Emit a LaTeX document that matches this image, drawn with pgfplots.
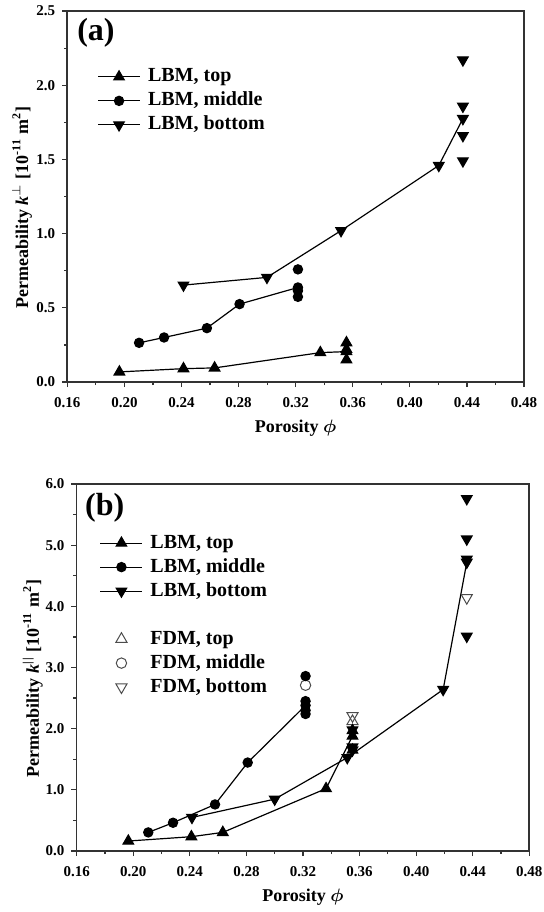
\documentclass[border=0pt]{standalone}
\usepackage{fontspec}
\setmainfont{Liberation Serif}
\usepackage{pgfplots}
\pgfplotsset{compat=1.18}

% shared look of both panels
\pgfplotsset{
  panel/.style={
    scale only axis,
    xmin=0.16, xmax=0.48,
    xtick={0.16,0.20,...,0.48},
    minor x tick num=1, minor y tick num=1,
    tick align=outside, xtick pos=left, ytick pos=left,
    major tick length=2.6pt, minor tick length=1.6pt,
    axis line style={black!80, line width=0.8pt},
    every tick/.style={black!80, line width=0.6pt},
    /pgf/number format/assume math mode=true,
    ticklabel style={font=\bfseries\fontsize{7.5}{9}\selectfont},
    xticklabel style={/pgf/number format/fixed, /pgf/number format/fixed zerofill, /pgf/number format/precision=2, yshift=-1.5pt},
    yticklabel style={/pgf/number format/fixed, /pgf/number format/fixed zerofill, /pgf/number format/precision=1},
    scaled ticks=false,
    label style={font=\bfseries\fontsize{9}{11}\selectfont},
    xlabel={Porosity {\boldmath$\phi$}},
    xlabel style={at={(axis description cs:0.5,-0.125)}, anchor=center},
    legend style={draw=none, fill=none, font=\bfseries\fontsize{10}{12}\selectfont,
      nodes={inner sep=1.2pt, text height=7pt, text depth=2pt}, row sep=0.6pt,
      /tikz/every odd column/.append style={column sep=2.5pt}},
    legend cell align=left,
    legend image code/.code={\draw[mark repeat=2,mark phase=2,#1] plot coordinates {(0pt,0pt) (10.5pt,0pt) (21pt,0pt)};},
    every axis plot/.append style={black, line width=0.6pt},
  },
  uptri/.style={mark=triangle*, mark size=3pt, mark options={solid, fill=black}},
  dntri/.style={mark=triangle*, mark size=3pt, mark options={solid, fill=black, rotate=180}},
  dot/.style={mark=*, mark size=2.3pt, mark options={solid, fill=black}},
}

\begin{document}
\begin{tikzpicture}
\path[use as bounding box] (-33.65pt,191pt) rectangle (238.35pt,-265pt);

% ---------------- (a) ----------------
\begin{axis}[panel, at={(0pt,0pt)}, anchor=south west,
  width=228.35pt, height=185.5pt,
  ymin=0, ymax=2.5, ytick={0,0.5,...,2.5},
  ylabel={Permeability \textit{k}\textsuperscript{$\perp$} [10\textsuperscript{-11} m\textsuperscript{2}]},
  ylabel style={at={(axis description cs:-0.099,0.47)}, anchor=center},
  legend style={at={(axis description cs:0.052,0.865)}, anchor=north west},
]
\addplot[uptri] coordinates {(0.1965,0.068) (0.2414,0.090) (0.2632,0.095) (0.3373,0.198) (0.3556,0.205)};
\addlegendentry{LBM, top}
\addplot[dot] coordinates {(0.2103,0.264) (0.2278,0.300) (0.2578,0.363) (0.2807,0.525) (0.3216,0.637)};
\addlegendentry{LBM, middle}
\addplot[dntri] coordinates {(0.2414,0.653) (0.2999,0.705) (0.3518,1.020) (0.4203,1.459) (0.4372,1.775)};
\addlegendentry{LBM, bottom}
% repeated samples at the last porosity
\addplot[uptri, only marks, forget plot] coordinates {(0.3556,0.265) (0.3556,0.220) (0.3556,0.150)};
\addplot[dot, only marks, forget plot] coordinates {(0.3216,0.759) (0.3216,0.615) (0.3216,0.574)};
\addplot[dntri, only marks, forget plot] coordinates {(0.4372,2.170) (0.4372,1.858) (0.4372,1.660) (0.4372,1.490)};
\node[anchor=west, font=\bfseries\fontsize{16}{18}\selectfont, inner sep=0pt] at (rel axis cs:0.021,0.94) {(a)};
\end{axis}

% ---------------- (b) ----------------
\begin{axis}[panel, at={(4.7pt,-234.5pt)}, anchor=south west,
  width=226.3pt, height=183.5pt,
  ymin=0, ymax=6, ytick={0,1,...,6},
  ylabel={Permeability \textit{k}\textsuperscript{|\kern0.8pt|} [10\textsuperscript{-11} m\textsuperscript{2}]},
  ylabel style={at={(axis description cs:-0.097,0.47)}, anchor=center},
  legend style={at={(axis description cs:0.037,0.882)}, anchor=north west},
]
\addplot[uptri] coordinates {(0.1965,0.163) (0.2411,0.234) (0.2633,0.304) (0.3363,1.020) (0.3550,1.880)};
\addlegendentry{LBM, top}
\addplot[dot] coordinates {(0.2106,0.304) (0.2281,0.462) (0.2578,0.761) (0.2809,1.446) (0.3218,2.380)};
\addlegendentry{LBM, middle}
\addplot[dntri] coordinates {(0.2415,0.549) (0.3000,0.848) (0.3513,1.527) (0.4191,2.640) (0.4358,4.720)};
\addlegendentry{LBM, bottom}
\addlegendimage{empty legend}
\addlegendentry{}
\addplot[only marks, mark=triangle, mark size=3.2pt, mark options={solid, draw=black!70, line width=0.5pt}] coordinates {(0.3550,2.120)};
\addlegendentry{FDM, top}
\addplot[only marks, mark=o, mark size=2.6pt, mark options={solid, draw=black!70, line width=0.5pt}] coordinates {(0.3218,2.710)};
\addlegendentry{FDM, middle}
\addplot[only marks, mark=triangle, mark size=3.2pt, mark options={solid, draw=black!70, line width=0.5pt, rotate=180}] coordinates {(0.3550,2.210) (0.4358,4.140)};
\addlegendentry{FDM, bottom}
% repeated samples at the last porosity
\addplot[uptri, only marks, forget plot] coordinates {(0.3550,1.970) (0.3550,1.650)};
\addplot[dot, only marks, forget plot] coordinates {(0.3218,2.860) (0.3218,2.450) (0.3218,2.300) (0.3218,2.240)};
\addplot[dntri, only marks, forget plot] coordinates {(0.4358,5.760) (0.4358,5.100) (0.4358,4.770) (0.4358,3.510) (0.3550,1.980) (0.3550,1.700) (0.3550,1.650)};
\node[anchor=west, font=\bfseries\fontsize{16}{18}\selectfont, inner sep=0pt] at (rel axis cs:0.018,0.935) {(b)};
\end{axis}
\end{tikzpicture}
\end{document}
